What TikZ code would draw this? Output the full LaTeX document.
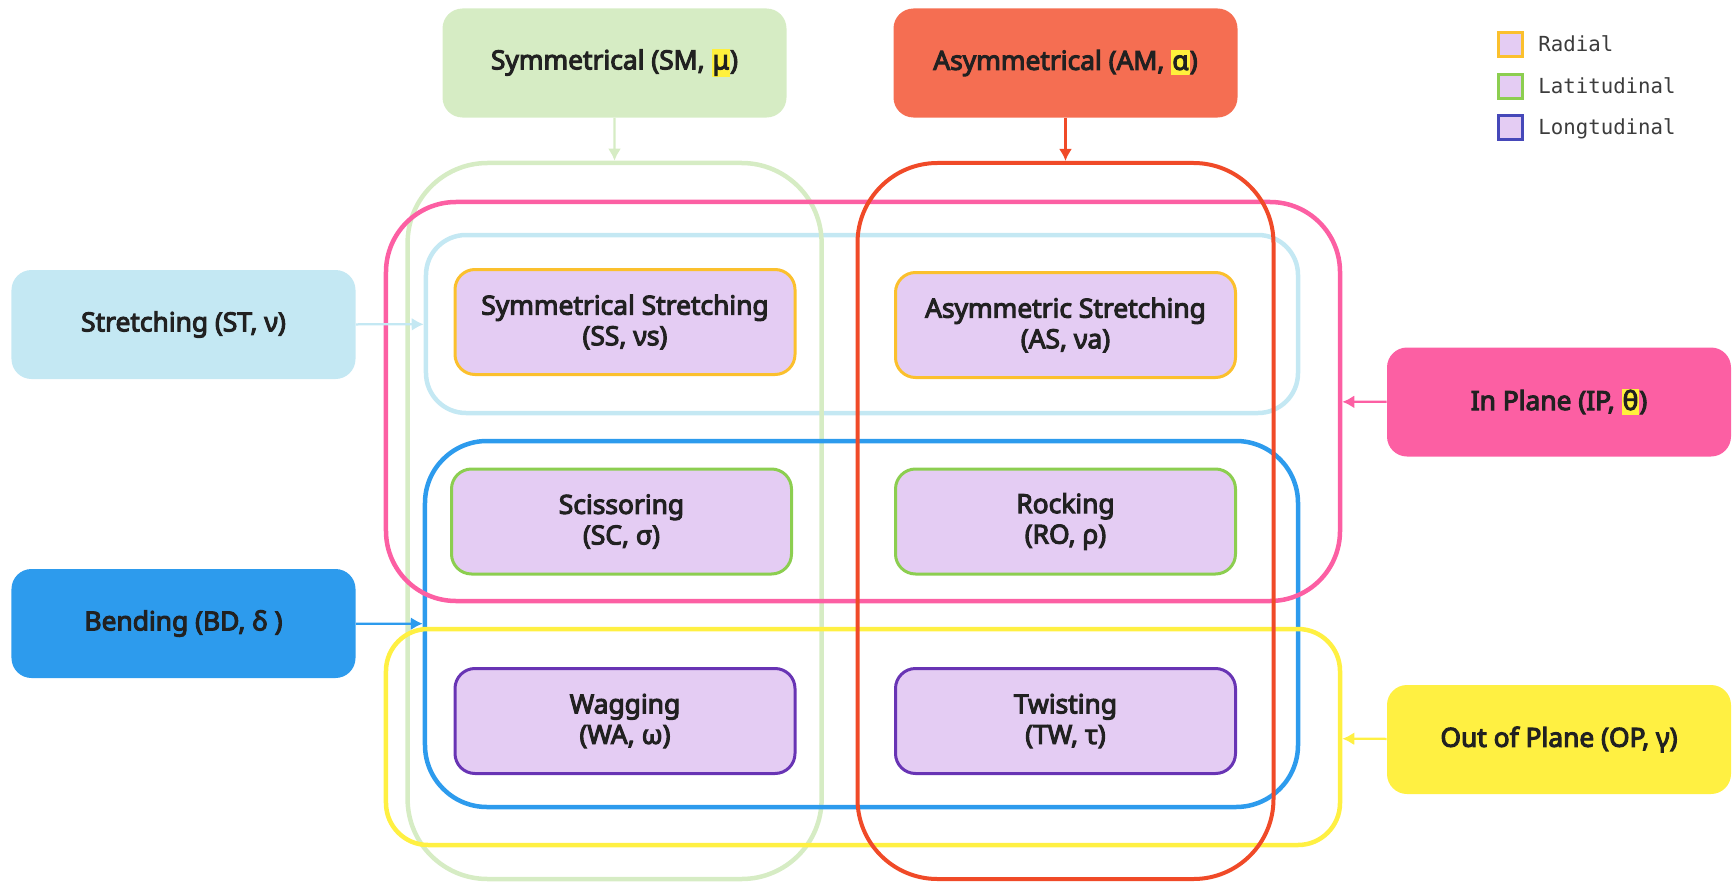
\documentclass[tikz,border=0pt]{standalone}
\usepackage{fontspec}
\setmainfont{Noto Sans}[AutoFakeBold=4]
\setmonofont{DejaVu Sans Mono}
\usetikzlibrary{arrows.meta,positioning}
\definecolor{symgreen}{RGB}{214,236,196}
\definecolor{asymfill}{RGB}{245,110,82}
\definecolor{asymline}{RGB}{240,74,40}
\definecolor{stblue}{RGB}{196,232,243}
\definecolor{bdblue}{RGB}{45,155,237}
\definecolor{ippink}{RGB}{252,95,163}
\definecolor{opyellow}{RGB}{255,240,66}
\definecolor{modefill}{RGB}{228,204,243}
\definecolor{radialcol}{RGB}{251,192,45}
\definecolor{latcol}{RGB}{140,206,80}
\definecolor{longcol}{RGB}{104,52,180}
\definecolor{longkey}{RGB}{70,72,185}
\definecolor{hlyellow}{RGB}{255,240,60}
\definecolor{textcol}{RGB}{33,33,33}
\definecolor{keytext}{RGB}{60,60,60}
\newcommand{\hlmark}[1]{{\setlength{\fboxsep}{0.6pt}\colorbox{hlyellow}{\vphantom{(}#1}}}
\tikzset{
  vib group/.style={
    rectangle,rounded corners=4mm,minimum width=68.8mm,minimum height=21.8mm,
    inner sep=0pt,text=textcol,font=\fontsize{15}{17}\selectfont\bfseries
  },
  vib band/.style={rectangle,draw,line width=0.9mm,inner sep=0pt},
  vib mode/.style={
    rectangle,draw,fill=modefill,rounded corners=4mm,line width=0.6mm,
    minimum width=68mm,minimum height=21mm,inner sep=0pt,align=center,
    text=textcol,font=\fontsize{15}{17.4}\selectfont\bfseries
  },
  vib link/.style={line width=0.45mm,-{Latex[length=2.4mm,width=2.6mm]}},
  vib key/.style={rectangle,draw,fill=modefill,line width=0.6mm,minimum size=4.8mm,inner sep=0pt},
  vib label/.style={inner sep=0pt,text=keytext,font=\fontsize{11.8}{14}\selectfont\ttfamily,
    text height=11pt,text depth=2pt}
}
\begin{document}
\begin{tikzpicture}[x=0.2mm,y=-0.2mm]
  \useasboundingbox (0,0) rectangle (1735,883);
  % grouping bands
  \node[vib band,draw=stblue,minimum width=174.4mm,minimum height=35.6mm,rounded corners=8mm] (stband) at (862,324) {};
  \node[vib band,draw=symgreen,minimum width=82.8mm,minimum height=143.2mm,rounded corners=16mm] (symband) at (614.6,521) {};
  \node[vib band,draw=bdblue,minimum width=174.6mm,minimum height=73.2mm,rounded corners=12.4mm] (bdband) at (861.5,624) {};
  \node[vib band,draw=ippink,minimum width=190.8mm,minimum height=79.8mm,rounded corners=14mm] (ipband) at (863,401.5) {};
  \node[vib band,draw=opyellow,minimum width=190.8mm,minimum height=43.2mm,rounded corners=8.4mm] (opband) at (863,737) {};
  \node[vib band,draw=asymline,line width=0.8mm,minimum width=83.2mm,minimum height=143.2mm,rounded corners=16mm] (asymband) at (1065.5,521) {};

  % vibration modes
  \node[vib mode,draw=radialcol] (ss) at (625,322) {Symmetrical Stretching\\(SS, νs)};
  \node[vib mode,draw=radialcol] (as) at (1065.5,325) {Asymmetric Stretching\\(AS, νa)};
  \node[vib mode,draw=latcol] (sc) at (621.5,521.5) {Scissoring\\(SC, σ)};
  \node[vib mode,draw=latcol] (ro) at (1065.5,521.5) {Rocking\\(RO, ρ)};
  \node[vib mode,draw=longcol] (wa) at (625,721) {Wagging\\(WA, ω)};
  \node[vib mode,draw=longcol] (tw) at (1065.5,721) {Twisting\\(TW, τ)};

  % groups
  \node[vib group,fill=symgreen] (sm) at (614.5,63) {Symmetrical (SM, \hlmark{μ})};
  \node[vib group,fill=asymfill] (am) at (1065.5,63) {Asymmetrical (AM, \hlmark{α})};
  \node[vib group,fill=stblue] (st) at (183.5,324.5) {Stretching (ST, ν)};
  \node[vib group,fill=bdblue] (bd) at (183.5,623.5) {Bending (BD, δ )};
  \node[vib group,fill=ippink] (ip) at (1559,402) {In Plane (IP, \hlmark{θ})};
  \node[vib group,fill=opyellow] (op) at (1559,739.5) {Out of Plane (OP, γ)};

  \draw[vib link,symgreen] (sm) -- (symband);
  \draw[vib link,asymline] (am) -- (asymband);
  \draw[vib link,stblue] (st) -- (stband);
  \draw[vib link,bdblue] (bd) -- (bdband);
  \draw[vib link,ippink] (ip) -- (ipband);
  \draw[vib link,opyellow] (op) -- (opband);

  % legend
  \foreach \ky/\kc/\kname [count=\i] in {44/radialcol/Radial,86/latcol/Latitudinal,127/longkey/Longtudinal} {
    \node[vib key,draw=\kc] (key\i) at (1510.5,\ky) {};
    \node[vib label,right=2.8mm of key\i] (keytext\i) {\kname};
  }
\end{tikzpicture}
\end{document}
